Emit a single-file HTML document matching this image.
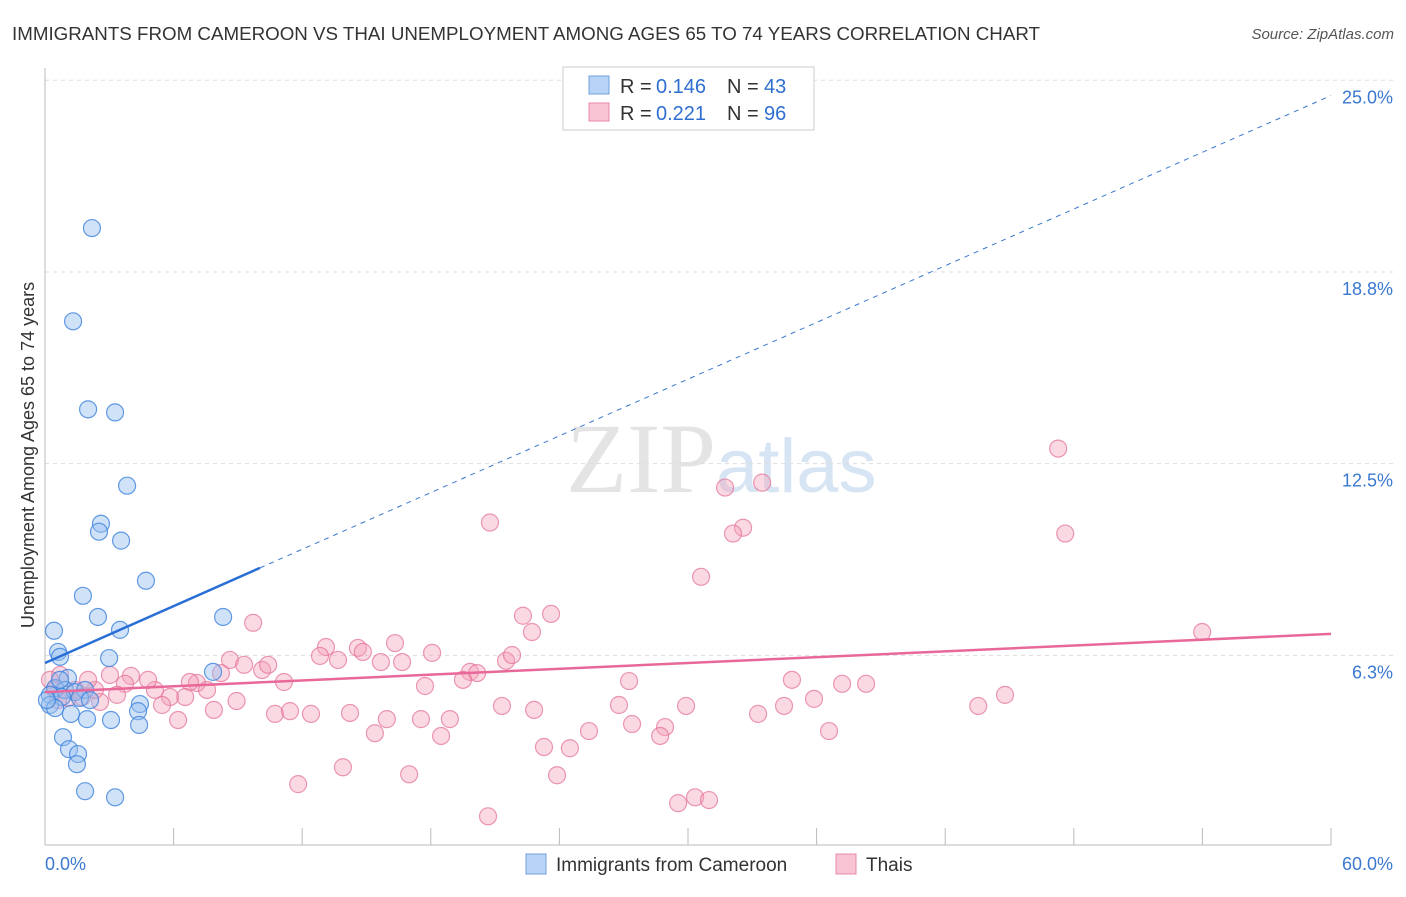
<!DOCTYPE html>
<html><head><meta charset="utf-8"><style>
body{margin:0;background:#fff;font-family:"Liberation Sans",sans-serif;}
svg text{font-family:"Liberation Sans",sans-serif;}
</style></head><body>
<svg id="c" width="1406" height="892" xmlns="http://www.w3.org/2000/svg">
<text x="12" y="40" font-size="18" fill="#333" textLength="1028" lengthAdjust="spacingAndGlyphs">IMMIGRANTS FROM CAMEROON VS THAI UNEMPLOYMENT AMONG AGES 65 TO 74 YEARS CORRELATION CHART</text>
<text x="1394" y="39" font-size="15" fill="#555" font-style="italic" text-anchor="end">Source: ZipAtlas.com</text>
<text x="716" y="492" font-size="100" fill="#e4e4e4" text-anchor="end" style="font-family:'Liberation Serif',serif">ZIP</text>
<text x="716" y="492" font-size="76" fill="#d6e4f3">atlas</text>
<text transform="translate(34,455) rotate(-90)" font-size="18" fill="#333" text-anchor="middle">Unemployment Among Ages 65 to 74 years</text>
<g id="grid"></g><g id="pts"></g><g id="lines"></g>
<g>
<rect x="563" y="67" width="251" height="63" fill="#fff" stroke="#ccc"/>
<rect x="589" y="76" width="20" height="18" fill="#b8d3f5" stroke="#6fa0e0"/>
<rect x="589" y="103" width="20" height="18" fill="#f8c4d4" stroke="#e88aa8"/>
<g font-size="20" fill="#333">
<text x="620" y="93">R =</text><text x="656" y="93" fill="#2f6fd0">0.146</text><text x="727" y="93">N =</text><text x="764" y="93" fill="#2f6fd0">43</text></g>
<g font-size="20" fill="#333">
<text x="620" y="120">R =</text><text x="656" y="120" fill="#2f6fd0">0.221</text><text x="727" y="120">N =</text><text x="764" y="120" fill="#2f6fd0">96</text></g>
</g>
<rect x="526" y="854" width="20" height="20" fill="#b8d3f5" stroke="#6fa0e0"/>
<text x="556" y="871" font-size="19" fill="#333">Immigrants from Cameroon</text>
<rect x="836" y="854" width="20" height="20" fill="#f8c4d4" stroke="#e88aa8"/>
<text x="866" y="871" font-size="19" fill="#333">Thais</text>
</svg>
<script>
const yTicks=[6.25,12.5,18.75,25];
const yTickLabels=["6.3%","12.5%","18.8%","25.0%"];
const xTicks=[0,6,12,18,24,30,36,42,48,54,60];
const blueX=[2.19,1.31,2.01,3.27,3.83,2.61,2.52,3.55,4.71,1.77,2.47,8.31,0.42,3.50,0.61,0.70,2.99,7.84,1.07,0.47,0.93,1.40,1.87,0.23,0.79,1.63,0.23,4.43,0.47,4.34,1.21,1.96,3.08,4.39,0.84,1.12,1.54,1.49,1.87,3.27,0.09,0.70,2.10];
const blueY=[20.18,17.14,14.27,14.17,11.78,10.54,10.28,9.99,8.68,8.19,7.5,7.5,7.05,7.08,6.36,6.2,6.16,5.71,5.51,5.18,5.12,5.05,5.12,4.96,4.89,4.86,4.63,4.66,4.53,4.43,4.34,4.17,4.14,3.98,3.58,3.19,3.03,2.7,1.82,1.62,4.79,5.45,4.79];
const pinkX=[47.27,47.60,31.73,33.46,32.57,32.10,30.61,20.76,53.99,22.30,23.61,22.72,9.71,13.11,12.83,13.67,14.60,14.83,15.67,16.33,16.66,18.06,8.63,9.29,10.13,10.41,21.51,21.79,19.83,20.16,19.50,27.25,34.85,37.19,38.31,44.79,43.54,35.88,34.48,33.27,29.91,26.78,22.82,21.32,17.73,11.15,8.21,7.09,6.76,7.56,8.94,7.88,6.54,5.83,5.46,5.13,4.81,4.01,3.03,3.73,3.36,2.57,2.33,2.01,0.70,0.23,10.73,11.43,12.41,14.23,15.95,17.54,18.89,15.39,18.48,25.38,27.39,28.93,28.70,23.28,24.49,36.58,13.90,16.99,23.89,11.81,20.67,29.54,30.33,30.98,6.21,1.40,1.07,0.47,1.73,0.61];
const pinkY=[12.99,10.22,11.72,11.88,10.41,10.22,8.81,10.58,7.01,7.54,7.6,7.01,7.31,6.52,6.23,6.1,6.49,6.36,6.03,6.65,6.03,6.33,6.1,5.94,5.77,5.94,6.07,6.26,5.71,5.67,5.45,5.41,5.45,5.32,5.32,4.96,4.6,4.83,4.6,4.34,4.6,4.63,4.47,4.6,5.25,5.38,5.67,5.35,5.38,5.12,4.76,4.47,4.89,4.89,4.63,5.12,5.45,5.58,5.61,5.32,4.96,4.73,5.12,5.45,5.61,5.45,4.34,4.43,4.34,4.37,4.17,4.17,4.17,3.71,3.62,3.78,4.01,3.91,3.62,3.26,3.22,3.78,2.6,2.37,2.34,2.05,1.0,1.43,1.62,1.53,4.14,5.12,4.86,5.12,4.89,4.79];
const blueLine=[[0,6.0],[10.03,9.1]];
const blueDash=[[10.03,9.1],[60,24.5]];
const pinkLine=[[0,5.05],[60,6.95]];
const X0=45,X1=1331,Y0=847,PY=30.67;
const xs=v=>X0+(v/60)*(X1-X0);
const ys=v=>Y0-v*PY;
const NS="http://www.w3.org/2000/svg";
function mk(t,a,p){const e=document.createElementNS(NS,t);for(const k in a)e.setAttribute(k,a[k]);p.appendChild(e);return e;}
const g=document.getElementById('grid');
yTicks.forEach((v,i)=>{
 const l=mk('line',{x1:X0,x2:1394,y1:ys(v),y2:ys(v),stroke:'#ddd','stroke-dasharray':'4,4'},g);
 
 
 const t=mk('text',{x:1393,y:ys(v)+23,'font-size':18,fill:'#3b78d0','text-anchor':'end'},g);
 t.textContent=yTickLabels[i];
 
 
});
const ax=mk('line',{x1:X0,x2:X1,y1:845,y2:845,stroke:'#bbb'},g);


const ay=mk('line',{x1:X0,x2:X0,y1:68,y2:845,stroke:'#bbb'},g);


xTicks.forEach(v=>{
 const t=mk('line',{x1:xs(v),x2:xs(v),y1:828,y2:845,stroke:'#bbb'},g);
 
 
});
const xl=mk('text',{x:45,y:870,'font-size':18,fill:'#3b78d0'},g);xl.textContent='0.0%';


const xr=mk('text',{x:1393,y:870,'font-size':18,fill:'#3b78d0','text-anchor':'end'},g);xr.textContent='60.0%';


const P=document.getElementById('pts');
pinkX.forEach((x,i)=>{
 const c=mk('circle',{cx:xs(x),cy:ys(pinkY[i]),r:8.5,fill:'rgba(244,160,185,0.4)',stroke:'rgba(226,110,150,0.7)','stroke-width':1.2},P);
 
 
});
blueX.forEach((x,i)=>{
 const c=mk('circle',{cx:xs(x),cy:ys(blueY[i]),r:8.5,fill:'rgba(150,190,240,0.45)',stroke:'rgba(60,130,220,0.8)','stroke-width':1.2},P);
 
 
});
const L=document.getElementById('lines');
const bd=mk('line',{x1:xs(blueDash[0][0]),y1:ys(blueDash[0][1]),x2:xs(blueDash[1][0]),y2:ys(blueDash[1][1]),stroke:'#3b78d0','stroke-width':1,'stroke-dasharray':'5,5'},L);


const bl=mk('line',{x1:xs(blueLine[0][0]),y1:ys(blueLine[0][1]),x2:xs(blueLine[1][0]),y2:ys(blueLine[1][1]),stroke:'#2a6fd6','stroke-width':2.5},L);


const pl=mk('line',{x1:xs(pinkLine[0][0]),y1:ys(pinkLine[0][1]),x2:xs(pinkLine[1][0]),y2:ys(pinkLine[1][1]),stroke:'#e8689a','stroke-width':2.5},L);


</script>
</body></html>
